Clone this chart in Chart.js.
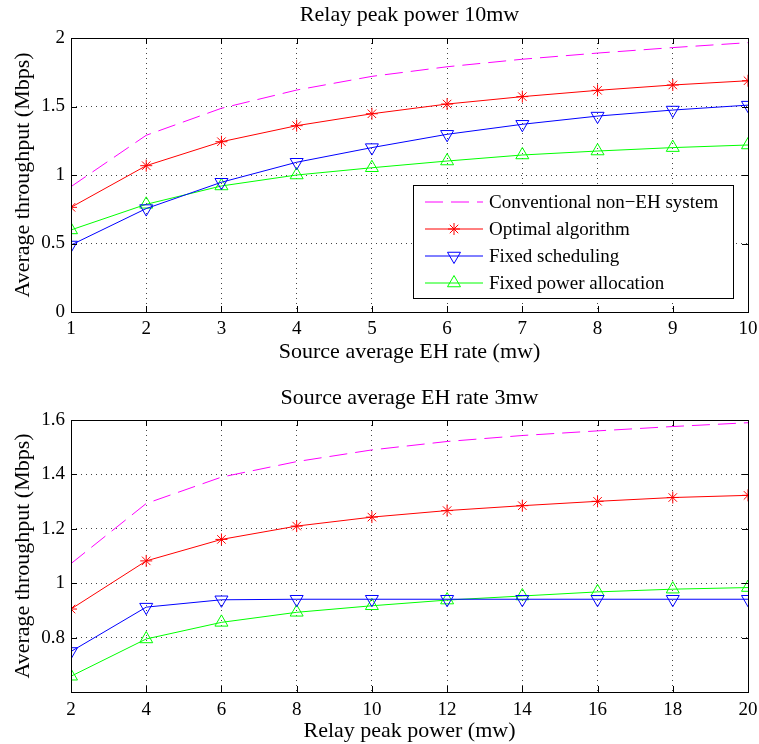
<!DOCTYPE html>
<html>
<head>
<meta charset="utf-8">
<script src="https://cdn.jsdelivr.net/npm/chart.js@4.4.1/dist/chart.umd.min.js"></script>
<style>
  html, body { margin: 0; padding: 0; background: #fff; }
  #wrap { position: relative; width: 759px; height: 744px; }
  canvas { position: absolute; left: 0; }
  #topChart { top: 0; }
  #bottomChart { top: 370px; }
</style>
</head>
<body>
<div id="wrap">
  <canvas id="topChart" width="759" height="370"></canvas>
  <canvas id="bottomChart" width="759" height="374"></canvas>
</div>
<script>
// ---- data ----
const seriesNames = ["Conventional non\u2212EH system", "Optimal algorithm", "Fixed scheduling", "Fixed power allocation"];

// top: relay peak power 10mw, x = source average EH rate
const ehRate = [1, 2, 3, 4, 5, 6, 7, 8, 9, 10];
const topConventional = [0.915, 1.29, 1.487, 1.62, 1.72, 1.79, 1.845, 1.89, 1.93, 1.966];
const topOptimal = [0.764, 1.068, 1.243, 1.36, 1.447, 1.518, 1.572, 1.618, 1.657, 1.688];
const topFixedSched = [0.489, 0.755, 0.947, 1.093, 1.2, 1.297, 1.37, 1.43, 1.474, 1.51];
const topFixedPower = [0.599, 0.786, 0.92, 1.0, 1.053, 1.102, 1.146, 1.175, 1.2, 1.219];
const topYTicks = [0, 0.5, 1, 1.5, 2];

// bottom: source average EH rate 3mw, x = relay peak power
const relayPower = [2, 4, 6, 8, 10, 12, 14, 16, 18, 20];
const botConventional = [1.072, 1.293, 1.39, 1.447, 1.49, 1.521, 1.543, 1.56, 1.576, 1.59];
const botOptimal = [0.905, 1.082, 1.161, 1.21, 1.243, 1.267, 1.285, 1.301, 1.315, 1.323];
const botFixedSched = [0.749, 0.912, 0.939, 0.941, 0.941, 0.941, 0.941, 0.941, 0.941, 0.941];
const botFixedPower = [0.658, 0.795, 0.856, 0.893, 0.917, 0.938, 0.953, 0.968, 0.978, 0.984];
const botYTicks = [0.8, 1, 1.2, 1.4, 1.6];

const FONT = "'Liberation Serif', 'Times New Roman', serif";

function pts(xs, ys) {
  return xs.map((x, i) => ({ x: x, y: ys[i] }));
}

function makeDatasets(xs, conv, opt, sched, power) {
  return [
    {
      label: seriesNames[0], data: pts(xs, conv),
      borderColor: "#ff00ff", borderWidth: 1, borderDash: [18, 8],
      pointRadius: 0, pointStyle: false
    },
    {
      label: seriesNames[1], data: pts(xs, opt),
      borderColor: "#ff0000", borderWidth: 1,
      pointStyle: "star", pointRadius: 6, pointBorderColor: "#ff0000",
      pointBackgroundColor: "transparent", pointBorderWidth: 1
    },
    {
      label: seriesNames[2], data: pts(xs, sched),
      borderColor: "#0000ff", borderWidth: 1,
      pointStyle: "triangle", pointRotation: 180, pointRadius: 7.5,
      pointBorderColor: "#0000ff", pointBackgroundColor: "transparent", pointBorderWidth: 1
    },
    {
      label: seriesNames[3], data: pts(xs, power),
      borderColor: "#00ff00", borderWidth: 1,
      pointStyle: "triangle", pointRotation: 0, pointRadius: 7.5,
      pointBorderColor: "#00ff00", pointBackgroundColor: "transparent", pointBorderWidth: 1
    }
  ];
}

// box round the plot area, with inner ticks like matlab
const boxPlugin = {
  id: "box",
  afterDatasetsDraw(chart) {
    const { ctx, chartArea: a, scales } = chart;
    ctx.save();
    ctx.strokeStyle = "#000";
    ctx.lineWidth = 1;
    ctx.strokeRect(Math.round(a.left) + 0.5, Math.round(a.top) + 0.5,
      Math.round(a.right - a.left), Math.round(a.bottom - a.top));
    ctx.beginPath();
    scales.x.ticks.forEach(t => {
      const px = Math.round(scales.x.getPixelForValue(t.value)) + 0.5;
      ctx.moveTo(px, a.bottom); ctx.lineTo(px, a.bottom - 6);
      ctx.moveTo(px, a.top); ctx.lineTo(px, a.top + 6);
    });
    scales.y.ticks.forEach(t => {
      const py = Math.round(scales.y.getPixelForValue(t.value)) + 0.5;
      ctx.moveTo(a.left, py); ctx.lineTo(a.left + 6, py);
      ctx.moveTo(a.right, py); ctx.lineTo(a.right - 6, py);
    });
    ctx.stroke();
    ctx.restore();
  }
};

// legend drawn inside the plot area (lower right)
const insideLegend = {
  id: "insideLegend",
  afterDraw(chart, args, opts) {
    if (!opts.show) return;
    const { ctx, chartArea: a } = chart;
    const w = 320, h = 113;
    const x0 = a.right - 15 - w, y0 = a.bottom - 14 - h;
    ctx.save();
    ctx.fillStyle = "#fff";
    ctx.fillRect(x0, y0, w, h);
    ctx.strokeStyle = "#000";
    ctx.lineWidth = 1;
    ctx.strokeRect(Math.round(x0) + 0.5, Math.round(y0) + 0.5, w, h);
    ctx.font = "19px " + FONT;
    ctx.textBaseline = "middle";
    chart.data.datasets.forEach((ds, i) => {
      const ry = y0 + 17 + i * 27;
      ctx.strokeStyle = ds.borderColor;
      ctx.lineWidth = 1;
      ctx.setLineDash(ds.borderDash || []);
      ctx.beginPath();
      ctx.moveTo(x0 + 12, ry);
      ctx.lineTo(x0 + 70, ry);
      ctx.stroke();
      ctx.setLineDash([]);
      if (ds.pointStyle) {
        ctx.fillStyle = "rgba(0,0,0,0)";
        ctx.strokeStyle = ds.pointBorderColor;
        Chart.helpers.drawPoint(ctx, {
          pointStyle: ds.pointStyle, rotation: ds.pointRotation || 0,
          radius: ds.pointRadius, borderWidth: 1
        }, x0 + 41, ry);
      }
      ctx.fillStyle = "#000";
      ctx.fillText(ds.label, x0 + 76, ry + 1);
    });
    ctx.restore();
  }
};

function numLabel(v) {
  return String(Number(v.toFixed(2)));
}

function makeChart(el, cfg) {
  return new Chart(el, {
    type: "line",
    data: { datasets: makeDatasets(cfg.xs, cfg.conv, cfg.opt, cfg.sched, cfg.power) },
    plugins: [boxPlugin, insideLegend],
    options: {
      responsive: false,
      animation: false,
      layout: { padding: { left: 0, right: 11, top: 0, bottom: 0 } },
      elements: { line: { tension: 0 } },
      plugins: {
        legend: { display: false },
        tooltip: { enabled: false },
        title: {
          display: true, text: cfg.title, color: "#000", fullSize: false,
          font: { family: FONT, size: 22, weight: "normal" },
          padding: { top: cfg.titleTop, bottom: cfg.titleBottom }
        },
        insideLegend: { show: cfg.legend }
      },
      scales: {
        x: {
          type: "linear", min: cfg.xs[0], max: cfg.xs[cfg.xs.length - 1],
          afterBuildTicks: s => { s.ticks = cfg.xs.map(v => ({ value: v })); },
          afterFit: s => { s.height = cfg.xHeight; s.paddingLeft = 0; s.paddingRight = 0; },
          ticks: {
            color: "#000", font: { family: FONT, size: 19 }, padding: cfg.xTickPad,
            maxRotation: 0, autoSkip: false, callback: v => numLabel(v)
          },
          grid: { color: "#444", lineWidth: 1, drawTicks: false },
          border: { display: false, dash: [1, 4] },
          title: {
            display: true, text: cfg.xTitle, color: "#000",
            font: { family: FONT, size: 22 }, padding: { top: 0, bottom: cfg.xTitlePad }
          }
        },
        y: {
          min: cfg.yMin, max: cfg.yMax,
          afterBuildTicks: s => { s.ticks = cfg.yTicks.map(v => ({ value: v })); },
          afterFit: s => { s.width = 71; s.paddingTop = 0; s.paddingBottom = 0; },
          ticks: {
            color: "#000", font: { family: FONT, size: 19 }, padding: 6,
            callback: v => numLabel(v)
          },
          grid: { color: "#444", lineWidth: 1, drawTicks: false },
          border: { display: false, dash: [1, 4] },
          title: {
            display: true, text: "Average throughput (Mbps)", color: "#000",
            font: { family: FONT, size: 22 }, padding: { top: 10, bottom: 0 }
          }
        }
      }
    }
  });
}

// dotted grid for both axes
Chart.defaults.scale.grid.borderDash = [1, 4];

const topCfg = {
  xs: ehRate, conv: topConventional, opt: topOptimal, sched: topFixedSched, power: topFixedPower,
  title: "Relay peak power 10mw", titleTop: 2, titleBottom: 9.6,
  xTitle: "Source average EH rate (mw)", xHeight: 58, xTickPad: 6, xTitlePad: 5,
  yMin: 0, yMax: 2, yTicks: topYTicks, legend: true
};
const botCfg = {
  xs: relayPower, conv: botConventional, opt: botOptimal, sched: botFixedSched, power: botFixedPower,
  title: "Source average EH rate 3mw", titleTop: 15, titleBottom: 8.6,
  xTitle: "Relay peak power (mw)", xHeight: 52, xTickPad: 7, xTitlePad: 0,
  yMin: 0.6, yMax: 1.6, yTicks: botYTicks, legend: false
};

makeChart(document.getElementById("topChart"), topCfg);
makeChart(document.getElementById("bottomChart"), botCfg);
</script>
</body>
</html>
